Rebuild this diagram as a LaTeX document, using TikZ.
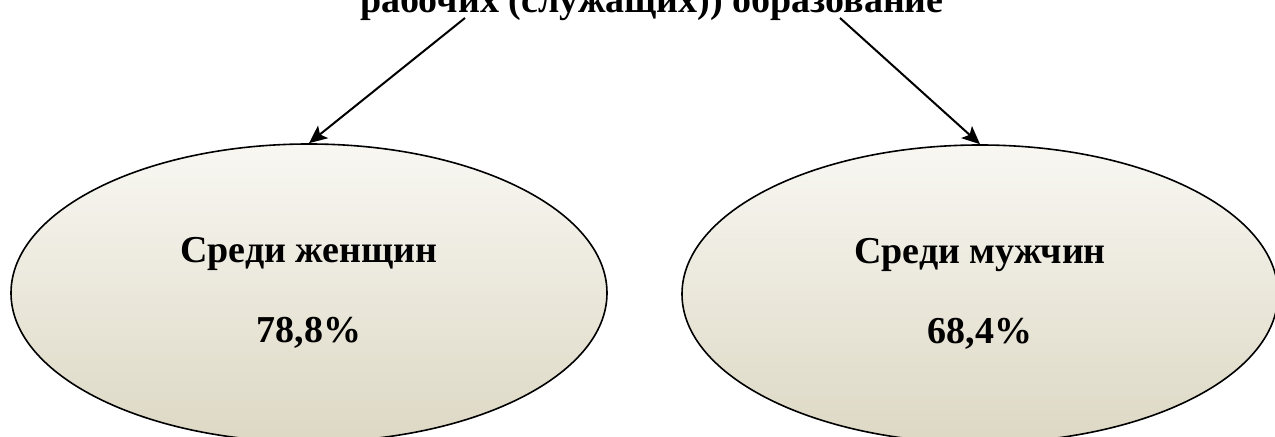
\documentclass[tikz,border=0pt]{standalone}
\usepackage{fontspec}
\setmainfont{Liberation Serif}
\usetikzlibrary{shapes.geometric,arrows.meta}

\begin{document}
\begin{tikzpicture}[x=0.5pt,y=-0.5pt,
        oval/.style={ellipse, draw=black, line width=0.8pt,
            top color=ovaltop, bottom color=ovalbottom,
            minimum width=298pt, minimum height=149pt, inner sep=0pt,
            align=center, font=\bfseries\fontsize{19}{22}\selectfont},
        pointer/.style={-{Stealth[length=9pt,width=8pt,inset=2pt]}, line width=1pt}]
        % Define colors
        \definecolor{ovaltop}{RGB}{248,247,242}
        \definecolor{ovalbottom}{RGB}{221,216,196}

        % Frame
        \useasboundingbox (0,0) rectangle (1275,437);
        \clip (0,0) rectangle (1275,437);

        % Title (only its last line is in view)
        \node[font=\bfseries\fontsize{19}{22}\selectfont, anchor=base, inner sep=0pt] (title) at (652,13)
            {рабочих (служащих)) образование};

        % Ovals
        \node[oval] (women) at (309,293) {Среди женщин\\[18pt]78,8\%};
        \node[oval] (men) at (980,294) {Среди мужчин\\[18pt]68,4\%};

        % Arrows
        \coordinate (fromw) at (465,18);
        \coordinate (fromm) at (840,18);
        \draw[pointer] (fromw) -- (women.north);
        \draw[pointer] (fromm) -- (men.north);

    \end{tikzpicture}
\end{document}
